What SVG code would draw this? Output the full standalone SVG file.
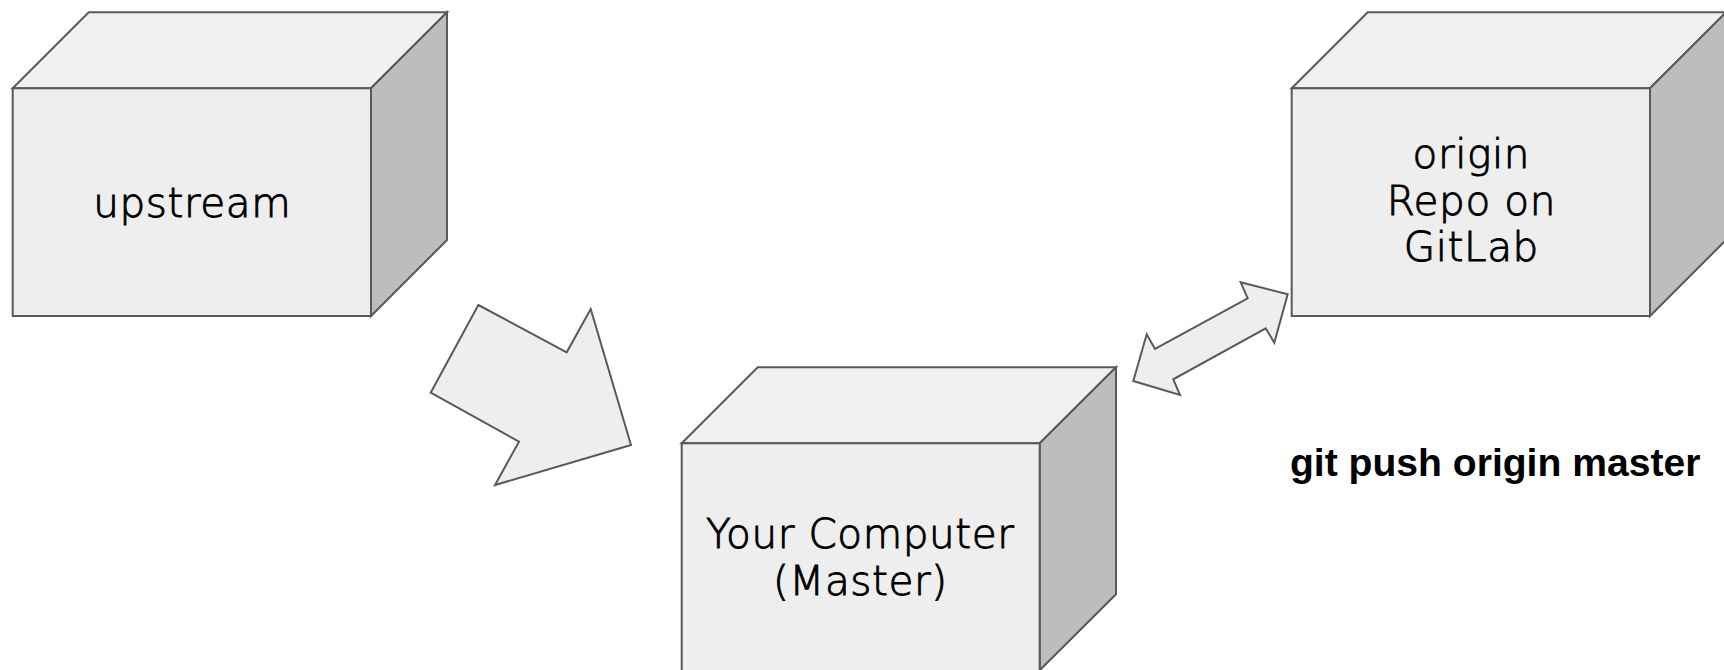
<svg xmlns="http://www.w3.org/2000/svg" width="1724" height="670" viewBox="0 0 1724 670">
<style>
.face{fill:#eeeeee;stroke:#595959;stroke-width:2;stroke-linejoin:miter}
.top{fill:#f0f0f0;stroke:#595959;stroke-width:2}
.side{fill:#bdbdbd;stroke:#595959;stroke-width:2}
.lbl{font-family:"DejaVu Sans","Noto Sans",sans-serif;font-weight:300;font-size:40.5px;letter-spacing:0.6px;fill:#000;stroke:#000;stroke-width:0.9px;text-anchor:middle}
.arrow{fill:#eeeeee;stroke:#595959;stroke-width:2;stroke-linejoin:miter}
.cmd{font-family:"Liberation Sans",Arial,sans-serif;font-weight:bold;font-size:39.1px;fill:#000}
</style>
<rect width="1724" height="670" fill="#ffffff"/>
<g id="upstream">
<polygon class="top" points="12.7,88.3 88.7,12.3 447,12.3 371,88.3"/>
<polygon class="side" points="371,88.3 447,12.3 447,240 371,316"/>
<rect class="face" x="12.7" y="88.3" width="358.3" height="227.7"/>
<text class="lbl" x="192.3" y="216.7">upstream</text>
</g>
<g id="computer">
<polygon class="top" points="681.7,443.3 757.7,367.3 1116,367.3 1039.7,443.3"/>
<polygon class="side" points="1039.7,443.3 1116,367.3 1116,594.3 1039.7,670.3"/>
<rect class="face" x="681.7" y="443.3" width="358" height="228"/>
<text class="lbl" x="860.3" y="547.7">Your Computer</text>
<text class="lbl" x="860.3" y="595">(Master)</text>
</g>
<g id="origin">
<polygon class="top" points="1291.7,88.3 1367.7,12.3 1726,12.3 1650,88.3"/>
<polygon class="side" points="1650,88.3 1726,12.3 1726,240 1650,316"/>
<rect class="face" x="1291.7" y="88.3" width="358.3" height="227.7"/>
<text class="lbl" x="1471.3" y="167.5">origin</text>
<text class="lbl" x="1471.3" y="215">Repo on</text>
<text class="lbl" x="1471.3" y="260.5">GitLab</text>
</g>
<g id="connectors">
<polygon class="arrow" points="478.3,305 566.7,352.3 590.7,309 631,445 495,485 519,441.7 430.7,392.7"/>
<polygon class="arrow" points="1287.7,294.3 1240.7,282.3 1247.7,298.3 1155,349 1146.7,334.3 1133.3,381 1180,395 1173.3,379.3 1265.7,328.3 1274.3,342.7"/>
</g>
<g id="command">
<text class="cmd" x="1290" y="476">git push origin master</text>
</g>
</svg>
